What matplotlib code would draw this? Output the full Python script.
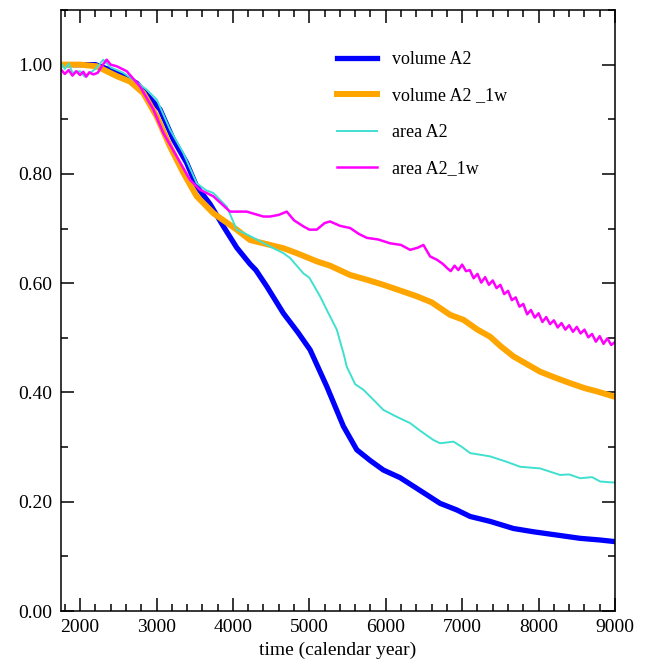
import numpy as np
import matplotlib
matplotlib.use('Agg')
import matplotlib.pyplot as plt
from matplotlib.ticker import MultipleLocator, FormatStrFormatter

plt.rcParams['font.family'] = ['Liberation Serif', 'DejaVu Serif']

# volume A2
vol_x = [1750, 2000, 2200, 2400, 2565, 2741, 2872, 3046, 3220, 3395, 3526, 3700,
         3875, 4050, 4224, 4300, 4443, 4660, 4850, 5010, 5228, 5446, 5621, 5800,
         5969, 6188, 6400, 6711, 6929, 7104, 7366, 7671, 7933, 8239, 8544, 8800, 9000]
vol_y = [1.000, 1.000, 1.000, 0.990, 0.979, 0.966, 0.945, 0.918, 0.863, 0.820, 0.777, 0.745,
         0.704, 0.665, 0.635, 0.624, 0.594, 0.545, 0.510, 0.478, 0.411, 0.338, 0.295, 0.275,
         0.258, 0.244, 0.225, 0.197, 0.185, 0.173, 0.164, 0.151, 0.145, 0.139, 0.133, 0.130, 0.127]

# volume A2 _1w
vol1w_x = [1750, 2000, 2217, 2479, 2653, 2827, 3003, 3177, 3351, 3526, 3744, 4050,
           4224, 4398, 4660, 4835, 5097, 5271, 5533, 5760, 5969, 6200, 6406, 6600,
           6842, 7016, 7200, 7366, 7500, 7671, 8020, 8200, 8413, 8600, 8762, 9000]
vol1w_y = [1.000, 1.000, 0.997, 0.979, 0.969, 0.948, 0.905, 0.850, 0.802, 0.759, 0.728, 0.698,
           0.679, 0.673, 0.664, 0.655, 0.640, 0.632, 0.615, 0.606, 0.597, 0.586, 0.576, 0.565,
           0.542, 0.533, 0.515, 0.502, 0.485, 0.466, 0.438, 0.428, 0.417, 0.408, 0.402, 0.392]

# area A2
area_x = [1750, 1800, 1850, 1900, 1999, 2060, 2130, 2200, 2304, 2400, 2565, 2700,
          2872, 3003, 3177, 3351, 3526, 3650, 3744, 3919, 4050, 4200, 4312, 4486,
          4660, 4748, 4922, 5000, 5140, 5250, 5359, 5450, 5490, 5600, 5707, 5850,
          5969, 6150, 6318, 6450, 6623, 6711, 6886, 7000, 7104, 7366, 7584, 7758,
          8020, 8150, 8282, 8400, 8544, 8700, 8806, 9000]
area_y = [1.003, 0.992, 1.002, 0.985, 0.988, 0.978, 0.985, 0.992, 1.009, 0.995, 0.985, 0.972,
          0.954, 0.936, 0.881, 0.838, 0.783, 0.770, 0.765, 0.740, 0.698, 0.688, 0.680, 0.667,
          0.655, 0.646, 0.618, 0.610, 0.576, 0.545, 0.515, 0.470, 0.447, 0.415, 0.405, 0.385,
          0.368, 0.355, 0.344, 0.330, 0.313, 0.307, 0.310, 0.300, 0.289, 0.283, 0.273, 0.264,
          0.261, 0.255, 0.249, 0.250, 0.243, 0.245, 0.237, 0.235]

# area A2_1w
area1w_x = [1750, 1800, 1850, 1900, 1950, 2000, 2042, 2080, 2120, 2173, 2230, 2283,
            2348, 2400, 2479, 2610, 2784, 2958, 3089, 3264, 3438, 3569, 3744, 3962,
            4180, 4398, 4486, 4600, 4704, 4800, 4922, 5000, 5097, 5200, 5271, 5400,
            5533, 5650, 5752, 5900, 6057, 6200, 6318, 6420, 6493, 6580, 6668, 6750,
            6800, 6850, 6900, 6950, 7000, 7050, 7100, 7150, 7200, 7250, 7300, 7350,
            7400, 7450, 7500, 7550, 7600, 7650, 7700, 7750, 7800, 7850, 7900, 7950,
            8000, 8050, 8100, 8150, 8200, 8250, 8300, 8350, 8400, 8450, 8500, 8550,
            8600, 8650, 8700, 8750, 8800, 8850, 8900, 8950, 9000]
area1w_y = [0.991, 0.983, 0.990, 0.980, 0.988, 0.981, 0.987, 0.978, 0.986, 0.982, 0.985, 0.997,
            1.009, 1.000, 0.997, 0.988, 0.960, 0.918, 0.875, 0.832, 0.789, 0.771, 0.759, 0.731,
            0.731, 0.722, 0.722, 0.725, 0.731, 0.715, 0.704, 0.698, 0.698, 0.710, 0.713, 0.705,
            0.701, 0.690, 0.683, 0.680, 0.673, 0.670, 0.661, 0.665, 0.670, 0.649, 0.643, 0.635,
            0.628, 0.622, 0.632, 0.624, 0.634, 0.622, 0.624, 0.609, 0.617, 0.601, 0.611, 0.597,
            0.605, 0.591, 0.597, 0.580, 0.586, 0.569, 0.574, 0.557, 0.562, 0.543, 0.551, 0.537,
            0.545, 0.529, 0.538, 0.525, 0.532, 0.519, 0.527, 0.515, 0.523, 0.511, 0.520, 0.508,
            0.515, 0.501, 0.507, 0.493, 0.503, 0.489, 0.499, 0.487, 0.492]

fig = plt.figure(figsize=(6.46, 6.69), dpi=100)
ax = fig.add_axes([61/646, 58/669, 554/646, 601/669])

ax.plot(vol_x, vol_y, color='#0000ff', lw=3.8, label='volume A2')
ax.plot(vol1w_x, vol1w_y, color='#ffa500', lw=4.3, label='volume A2 _1w')
ax.plot(area_x, area_y, color='#40e0d0', lw=1.4, label='area A2')
ax.plot(area1w_x, area1w_y, color='#ff00ff', lw=1.8, label='area A2_1w')

ax.set_xlim(1750, 9000)
ax.set_ylim(0, 1.1)
ax.xaxis.set_major_locator(MultipleLocator(1000))
ax.xaxis.set_minor_locator(MultipleLocator(200))
ax.yaxis.set_major_locator(MultipleLocator(0.2))
ax.yaxis.set_minor_locator(MultipleLocator(0.1))
ax.yaxis.set_major_formatter(FormatStrFormatter('%.2f'))
ax.tick_params(which='both', direction='in', top=True, right=True, labelsize=14, width=1.1)
ax.tick_params(which='major', length=9.5, pad=6)
ax.tick_params(which='minor', length=5)
for s in ax.spines.values():
    s.set_linewidth(1.1)

ax.set_xlabel('time (calendar year)', fontsize=14, labelpad=4)

ax.legend(loc='upper left', bbox_to_anchor=(0.499, 0.932), frameon=False, fontsize=13,
          handlelength=2.2, handletextpad=0.8, labelspacing=1.08, borderpad=0, borderaxespad=0)

fig.savefig('out.png', dpi=100)
